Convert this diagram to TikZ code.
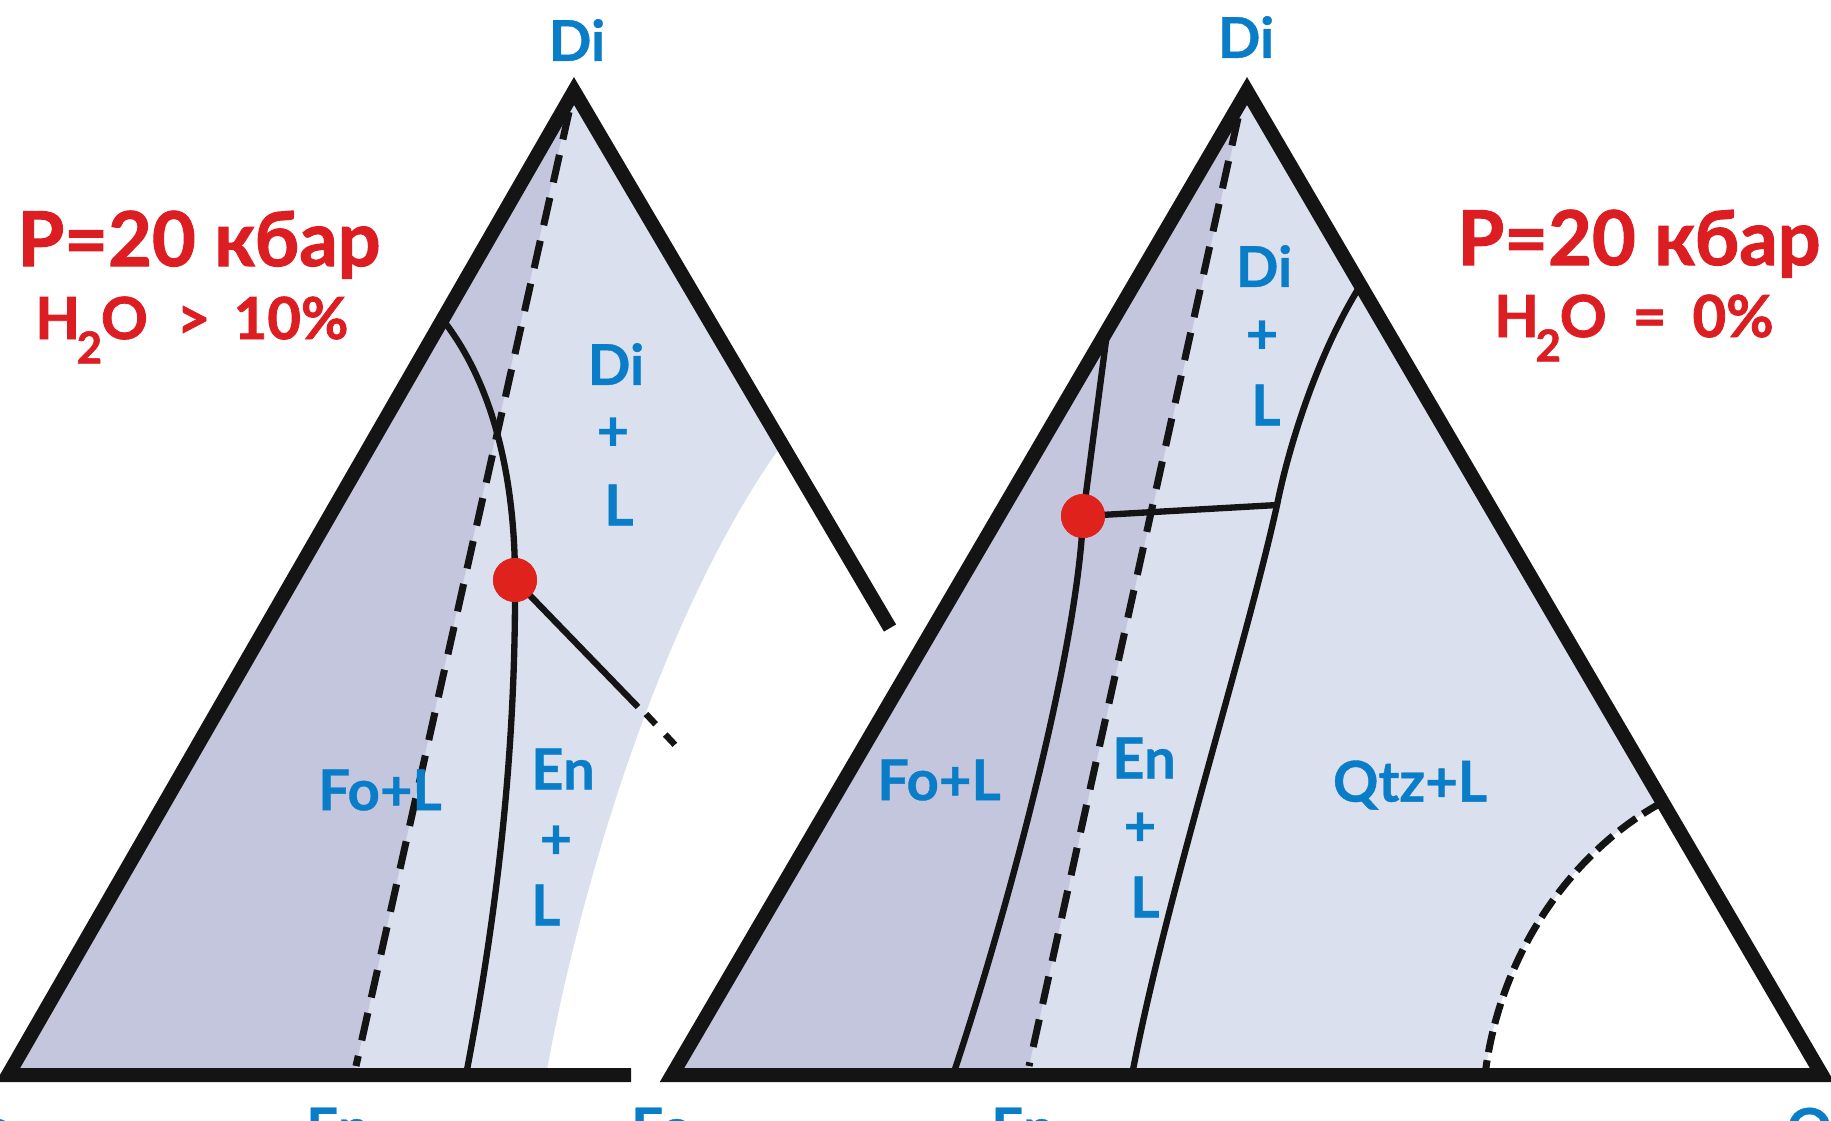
\documentclass[tikz,border=0pt]{standalone}
\usepackage{fontspec}
\setmainfont{Lato}
\newfontfamily\heavyfont{Lato}[BoldFeatures={FakeBold=1.4}]
\newfontfamily\fieldfont{Lato}[BoldFeatures={FakeBold=0.7}]
\usepackage{xcolor}
\usepackage{tikz}
\definecolor{fieldblue}{HTML}{0A7DC8}
\definecolor{titlered}{HTML}{DC1E23}
\definecolor{darkfill}{HTML}{C3C6DD}
\definecolor{lightfill}{HTML}{DAE0EE}
\definecolor{dotred}{HTML}{E0221C}
\newcommand{\subtwo}{\kern-0.06em\raisebox{-0.42em}{\fontsize{12.5}{12.5}\selectfont 2}\kern-0.02em}

\begin{document}
\begin{tikzpicture}[x=0.01cm, y=-0.01cm,
  side/.style={line width=4pt, line join=miter, black!92},
  cotectic/.style={line width=1.8pt, black!92},
  tieline/.style={line width=1.8pt, black!92},
  dashline/.style={line width=2pt, black!92, dash pattern=on 8pt off 4.5pt},
  fld/.style={text=fieldblue, font=\fontsize{16}{18}\fieldfont\bfseries, inner sep=0pt},
  ttl/.style={text=titlered, font=\fontsize{21.5}{24}\heavyfont\bfseries, inner sep=0pt, anchor=base},
  sttl/.style={text=titlered, font=\fontsize{16.5}{18}\heavyfont\bfseries, inner sep=0pt, anchor=base},
  eut/.style={circle, fill=dotred, inner sep=0pt, minimum size=12.5pt}]
  \useasboundingbox (0,0) rectangle (1831,1120);

  % left diagram, H2O > 10%
  \coordinate (apA) at (574,91);
  \coordinate (loA) at (8,1075);
  \coordinate (cutA) at (631,1075);
  \coordinate (sideA) at (890,628);
  \coordinate (wA) at (546,1075);
  \coordinate (wtA) at (780,447);
  \fill[lightfill] (apA) -- (loA) -- (wA) .. controls (582,876) and (664,611) .. (wtA) -- cycle;
  \fill[darkfill] (apA) -- (loA) -- (354,1075) -- (572,91) -- cycle;
  \draw[dashline] (569,112) -- (356,1066);
  \node[eut] (eutA) at (515,580) {};
  \draw[cotectic] (443,320) .. controls (490,380) and (515,470) .. (eutA.center)
    .. controls (516,780) and (490,950) .. (466,1075);
  \coordinate (tieA) at (638,707);
  \draw[tieline] (eutA.center) -- (tieA);
  \draw[tieline, dash pattern=on 4pt off 4pt] (646,714) -- (677,747);
  \draw[side] (sideA) -- (apA) -- (loA) -- (cutA);
  \node[eut] at (eutA) {};

  % right diagram, H2O = 0%
  \coordinate (apB) at (1247,91);
  \coordinate (loB) at (672,1075);
  \coordinate (riB) at (1822,1075);
  \coordinate (wB) at (1485,1075);
  \coordinate (wtB) at (1661,803);
  \fill[lightfill] (apB) -- (loB) -- (wB) .. controls (1500,950) and (1575,850) .. (wtB) -- cycle;
  \fill[darkfill] (apB) -- (loB) -- (1027,1075) -- (1245,91) -- cycle;
  \draw[dashline] (1238,118) -- (1029,1066);
  \node[eut] (eutB) at (1083,516) {};
  \coordinate (tieB) at (1277,505);
  \draw[cotectic] (1107,333) -- (eutB.center)
    .. controls (1078,650) and (1005,920) .. (953,1075);
  \draw[tieline] (eutB.center) -- (tieB);
  \draw[cotectic] (1360,286) .. controls (1320,350) and (1290,440) .. (tieB)
    .. controls (1245,650) and (1165,900) .. (1132,1075);
  \draw[dashline, dash pattern=on 6pt off 2.3pt] (wtB) .. controls (1575,850) and (1500,950) .. (wB);
  \draw[side] (apB) -- (loB) -- (riB) -- cycle;
  \node[eut] at (eutB) {};

  % titles
  \node[ttl] (pA) at (199,266) {P=20 кбар};
  \node[sttl] (wA) at (192,339) {H\subtwo O\hspace{0.5em}>\hspace{0.4em}10\%};
  \node[ttl] (pB) at (1639,265) {P=20 кбар};
  \node[sttl] (wB) at (1634,337) {H\subtwo O\hspace{0.45em}=\hspace{0.45em}0\%};

  % field labels, left
  \node[fld] (diTopA) at (577,40) {Di};
  \node[fld] (diA) at (616,364) {Di};
  \node[fld] (pdA) at (613,434) {+};
  \node[fld] (ldA) at (619,505) {L};
  \node[fld] (foA) at (380,790) {Fo+L};
  \node[fld] (enA) at (563,769) {En};
  \node[fld] (peA) at (556,842) {+};
  \node[fld] (leA) at (546,905) {L};

  % field labels, right
  \node[fld] (diTopB) at (1246,37) {Di};
  \node[fld] (diB) at (1264,266) {Di};
  \node[fld] (pdB) at (1262,337) {+};
  \node[fld] (ldB) at (1266,405) {L};
  \node[fld] (foB) at (939,780) {Fo+L};
  \node[fld] (enB) at (1144,758) {En};
  \node[fld] (peB) at (1140,829) {+};
  \node[fld] (leB) at (1145,897) {L};
  \node[fld] (qtzB) at (1410,785) {Qtz+L};

  % corner labels (cut by the frame)
  \node[fld, anchor=north east] (foBotA) at (14,1107) {Fo};
  \node[fld, anchor=north] (enBotA) at (338,1107) {En};
  \node[fld, anchor=north] (foBotB) at (662,1107) {Fo};
  \node[fld, anchor=north] (enBotB) at (1023,1107) {En};
  \node[fld, anchor=north west] (qtzBot) at (1786,1107) {Qtz};
\end{tikzpicture}
\end{document}
